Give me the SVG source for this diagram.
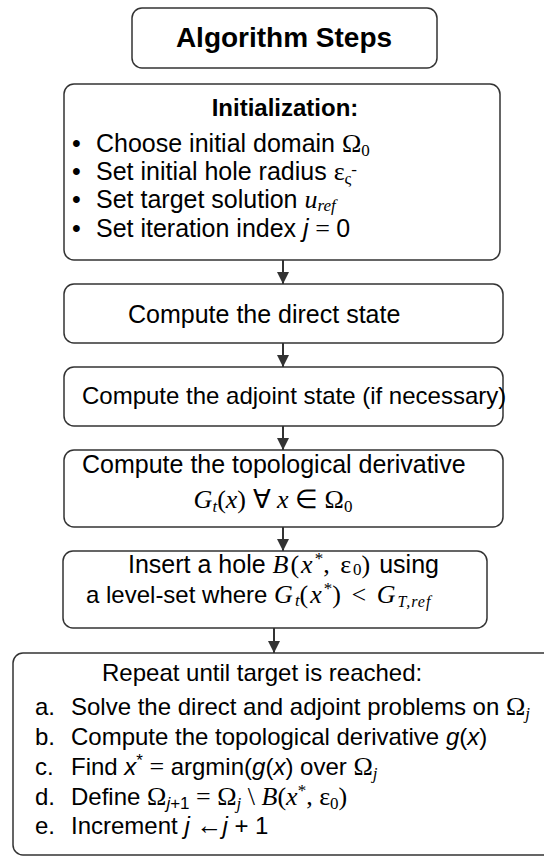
<svg xmlns="http://www.w3.org/2000/svg" width="544" height="857" viewBox="0 0 544 857">
<style>
.box{fill:#fff;stroke:#333;stroke-width:1.5}
.t{font-family:"Liberation Sans",Arial,sans-serif;font-size:24px;fill:#000}
.t25{font-size:25px}
.b{font-weight:bold}
.m{font-family:"Liberation Serif","Times New Roman",serif;font-size:26px}
.w{letter-spacing:2px}
.i{font-style:italic}
.s{font-size:17px}
.c{stroke:#333;stroke-width:2;fill:none}
</style>
<defs>
<marker id="arr" markerWidth="12" markerHeight="12" refX="12" refY="6" orient="auto" markerUnits="userSpaceOnUse" viewBox="0 0 12 12">
<path d="M0,0 L12,6 L0,12 Z" fill="#333"/>
</marker>
</defs>
<rect width="544" height="857" fill="#fff"/>
<g id="connectors">
<line class="c" x1="283" y1="260" x2="283" y2="284" marker-end="url(#arr)"/>
<line class="c" x1="283" y1="343" x2="283" y2="367" marker-end="url(#arr)"/>
<line class="c" x1="283" y1="426" x2="283" y2="450" marker-end="url(#arr)"/>
<line class="c" x1="283" y1="527" x2="283" y2="551" marker-end="url(#arr)"/>
<line class="c" x1="274" y1="628" x2="274" y2="653" marker-end="url(#arr)"/>
</g>
<g id="title">
<rect class="box" x="132" y="8" width="305" height="60" rx="10"/>
<text class="t b" x="284" y="47" text-anchor="middle" style="font-size:28px">Algorithm Steps</text>
</g>
<g id="init">
<rect class="box" x="64" y="84" width="436" height="176" rx="10"/>
<text class="t b" x="285" y="116" text-anchor="middle">Initialization:</text>
<text class="t t25" x="72" y="152">•</text>
<text class="t t25" x="72" y="180">•</text>
<text class="t t25" x="72" y="208">•</text>
<text class="t t25" x="72" y="237">•</text>
<text class="t t25" x="96" y="152">Choose initial domain <tspan class="m">Ω</tspan><tspan class="m s" dy="4">0</tspan></text>
<text class="t t25" x="96" y="180">Set initial hole radius <tspan class="m">ε</tspan><tspan class="m s" dy="4">ς</tspan><tspan class="m s" dy="-9">-</tspan></text>
<text class="t t25" x="96" y="208">Set target solution <tspan class="m i">u</tspan><tspan class="m i s" dy="3">ref</tspan></text>
<text class="t t25" x="96" y="237">Set iteration index <tspan class="i">j</tspan><tspan class="m"> = </tspan>0</text>
</g>
<g id="direct">
<rect class="box" x="64" y="284" width="439" height="59" rx="10"/>
<text class="t t25" x="128" y="323">Compute the direct state</text>
</g>
<g id="adjoint">
<rect class="box" x="64" y="367" width="439" height="59" rx="10"/>
<text class="t" x="82" y="404">Compute the adjoint state (if necessary)</text>
</g>
<g id="topo">
<rect class="box" x="64" y="450" width="439" height="77" rx="10"/>
<text class="t t25" x="82" y="473">Compute the topological derivative</text>
<text class="t" x="273" y="508" text-anchor="middle"><tspan class="m i">G</tspan><tspan class="m i s" dy="4">t</tspan><tspan class="m" dy="-4">(</tspan><tspan class="m i">x</tspan><tspan class="m">) ∀ </tspan><tspan class="m i">x</tspan><tspan class="m"> ∈ Ω</tspan><tspan class="m s" dy="4">0</tspan></text>
</g>
<g id="insert">
<rect class="box" x="63" y="551" width="424" height="77" rx="10"/>
<text class="t t25" x="128" y="573">Insert a hole <tspan class="m w i">B</tspan><tspan class="m w">(</tspan><tspan class="m w i">x</tspan><tspan class="m s" dy="-9">*</tspan><tspan class="m w" dy="9">, ε</tspan><tspan class="m s" dy="2">0</tspan><tspan class="m w" dy="-2">)</tspan> using</text>
<text class="t" x="86" y="603">a level-set where <tspan class="m w i">G</tspan><tspan class="m i s" dy="3">t</tspan><tspan class="m w" dy="-3">(</tspan><tspan class="m w i">x</tspan><tspan class="m s" dy="-9">*</tspan><tspan class="m w" dy="9">) &lt; </tspan><tspan class="m w i">G</tspan><tspan class="m i" style="font-size:16px;letter-spacing:1px" dy="4">T,ref</tspan></text>
</g>
<g id="repeat">
<rect class="box" x="13" y="653" width="545" height="202" rx="10"/>
<text class="t" x="102" y="681">Repeat until target is reached:</text>
<text class="t" x="35" y="715">a.</text>
<text class="t" x="35" y="745">b.</text>
<text class="t" x="35" y="775">c.</text>
<text class="t" x="35" y="805">d.</text>
<text class="t" x="35" y="834">e.</text>
<text class="t" x="71" y="715">Solve the direct and adjoint problems on <tspan class="m">Ω</tspan><tspan class="m i s" dy="4">j</tspan></text>
<text class="t" x="71" y="745">Compute the topological derivative <tspan class="i">g</tspan>(<tspan class="i">x</tspan>)</text>
<text class="t" x="71" y="775">Find <tspan class="i">x</tspan><tspan class="s" dy="-9">*</tspan><tspan class="m" dy="9"> = </tspan>argmin(<tspan class="i">g</tspan>(<tspan class="i">x</tspan>) over <tspan class="m">Ω</tspan><tspan class="m i s" dy="4">j</tspan></text>
<text class="t" x="71" y="805">Define <tspan class="m">Ω</tspan><tspan class="i s" dy="4">j</tspan><tspan class="s">+1</tspan><tspan class="m" dy="-4"> = Ω</tspan><tspan class="m i s" dy="4">j</tspan><tspan class="m" dy="-4"> \ </tspan><tspan class="m i">B</tspan><tspan class="m">(</tspan><tspan class="m i">x</tspan><tspan class="m s" dy="-9">*</tspan><tspan class="m" dy="9">, ε</tspan><tspan class="m s" dy="4">0</tspan><tspan class="m" dy="-4">)</tspan></text>
<text class="t" x="71" y="834">Increment <tspan class="i">j</tspan> <tspan class="m">←</tspan><tspan class="i">j</tspan> + 1</text>
</g>
</svg>
